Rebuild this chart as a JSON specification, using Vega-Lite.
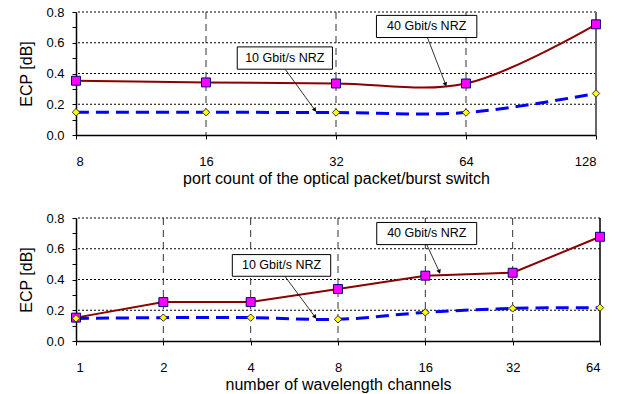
{
  "$schema": "https://vega.github.io/schema/vega-lite/v6.json",
  "padding": {"left": 18, "top": 6, "right": 5, "bottom": 2},
  "spacing": 26,
  "config": {
    "view": {"stroke": null},
    "font": "Liberation Sans",
    "axis": {
      "labelFont": "Liberation Sans", "titleFont": "Liberation Sans",
      "labelColor": "black", "titleColor": "black",
      "domainColor": "black", "tickColor": "black", "domainWidth": 1.5,
      "labelFontSize": 13, "titleFontSize": 16, "titleFontWeight": "normal",
      "grid": false, "tickSize": 4
    }
  },
  "datasets": {
    "top": [
      {"x": 8, "y": 0.353, "s": "40G"}, {"x": 16, "y": 0.342, "s": "40G"}, {"x": 32, "y": 0.335, "s": "40G"}, {"x": 64, "y": 0.335, "s": "40G"}, {"x": 128, "y": 0.72, "s": "40G"},
      {"x": 8, "y": 0.148, "s": "10G"}, {"x": 16, "y": 0.148, "s": "10G"}, {"x": 32, "y": 0.146, "s": "10G"}, {"x": 64, "y": 0.146, "s": "10G"}, {"x": 128, "y": 0.27, "s": "10G"}
    ],
    "bottom": [
      {"x": 1, "y": 0.152, "s": "40G"}, {"x": 2, "y": 0.253, "s": "40G"}, {"x": 4, "y": 0.253, "s": "40G"}, {"x": 8, "y": 0.338, "s": "40G"}, {"x": 16, "y": 0.425, "s": "40G"}, {"x": 32, "y": 0.444, "s": "40G"}, {"x": 64, "y": 0.678, "s": "40G"},
      {"x": 1, "y": 0.147, "s": "10G"}, {"x": 2, "y": 0.152, "s": "10G"}, {"x": 4, "y": 0.152, "s": "10G"}, {"x": 8, "y": 0.141, "s": "10G"}, {"x": 16, "y": 0.186, "s": "10G"}, {"x": 32, "y": 0.212, "s": "10G"}, {"x": 64, "y": 0.217, "s": "10G"}
    ],
    "topAnn": [
      {"s": "10G", "label": "10 Gbit/s NRZ", "x1": 18.9, "x2": 31.4, "y1": 0.573, "y2": 0.428, "tx": 24.35, "ty": 0.5, "ax": 24.4, "ay": 0.428, "bx": 28.6, "by": 0.162},
      {"s": "40G", "label": "40 Gbit/s NRZ", "x1": 39.7, "x2": 67.8, "y1": 0.778, "y2": 0.634, "tx": 51.9, "ty": 0.706, "ax": 52.1, "ay": 0.634, "bx": 57.4, "by": 0.329}
    ],
    "bottomAnn": [
      {"s": "10G", "label": "10 Gbit/s NRZ", "x1": 3.458, "x2": 7.55, "y1": 0.562, "y2": 0.421, "tx": 5.11, "ty": 0.492, "ax": 5.25, "ay": 0.421, "bx": 6.67, "by": 0.156},
      {"s": "40G", "label": "40 Gbit/s NRZ", "x1": 10.88, "x2": 24.05, "y1": 0.771, "y2": 0.627, "tx": 16.18, "ty": 0.7, "ax": 16.18, "ay": 0.627, "bx": 17.88, "by": 0.45}
    ],
    "hgrid": [{"g": 0.2}, {"g": 0.4}, {"g": 0.6}, {"g": 0.8}],
    "vgridTop": [{"v": 16}, {"v": 32}, {"v": 64}],
    "vgridBottom": [{"v": 2}, {"v": 4}, {"v": 8}, {"v": 16}, {"v": 32}]
  },
  "vconcat": [
    {
      "width": 520, "height": 123,
      "encoding": {
        "x": {"field": "x", "type": "quantitative",
          "scale": {"type": "log", "base": 2, "domain": [8, 128], "nice": false},
          "axis": {"values": [8, 16, 32, 64, 128], "format": "d", "labelPadding": 16, "titlePadding": 2, "title": "port count of the optical packet/burst switch"}},
        "y": {"field": "y", "type": "quantitative",
          "scale": {"domain": [0, 0.8], "nice": false},
          "axis": {"values": [0, 0.1, 0.2, 0.3, 0.4, 0.5, 0.6, 0.7, 0.8], "labelExpr": "round(datum.value*10) % 2 == 0 ? format(datum.value, '.1f') : ''", "labelPadding": 8, "titlePadding": 11, "title": "ECP [dB]"}}
      },
      "layer": [
        {"data": {"name": "hgrid"}, "mark": {"type": "rule", "color": "black", "strokeDash": [2, 2], "strokeWidth": 1.2}, "encoding": {"x": null, "y": {"field": "g", "type": "quantitative"}}},
        {"data": {"name": "vgridTop"}, "mark": {"type": "rule", "color": "#333", "strokeDash": [7, 5], "strokeWidth": 1}, "encoding": {"y": null, "x": {"field": "v", "type": "quantitative"}}},
        {"data": {"values": [{"v": 128}]}, "mark": {"type": "rule", "color": "#666", "strokeWidth": 2}, "encoding": {"y": null, "x": {"field": "v", "type": "quantitative"}}},
        {"data": {"name": "top"}, "transform": [{"filter": "datum.s == '40G'"}], "mark": {"type": "line", "interpolate": "catmull-rom", "color": "#8B0000", "strokeWidth": 2}},
        {"data": {"name": "top"}, "transform": [{"filter": "datum.s == '10G'"}], "mark": {"type": "line", "interpolate": "catmull-rom", "color": "#0000FF", "strokeWidth": 3, "strokeDash": [13, 7]}},
        {"data": {"name": "top"}, "transform": [{"filter": "datum.s == '40G'"}], "mark": {"type": "point", "shape": "square", "filled": true, "fill": "#FF00FF", "stroke": "#000080", "strokeWidth": 1, "size": 80, "opacity": 1}},
        {"data": {"name": "top"}, "transform": [{"filter": "datum.s == '10G'"}], "mark": {"type": "point", "shape": "diamond", "filled": true, "fill": "#FFFF00", "stroke": "#333", "strokeWidth": 1, "size": 55, "opacity": 1}},
        {"data": {"name": "topAnn"}, "mark": {"type": "rule", "color": "black", "strokeWidth": 0.8}, "encoding": {"x": {"field": "ax", "type": "quantitative"}, "y": {"field": "ay", "type": "quantitative"}, "x2": {"field": "bx"}, "y2": {"field": "by"}}},
        {"data": {"name": "topAnn"}, "mark": {"type": "point", "shape": "triangle-up", "filled": true, "color": "black", "size": 22, "opacity": 1}, "encoding": {"x": {"field": "bx", "type": "quantitative"}, "y": {"field": "by", "type": "quantitative"}, "angle": {"field": "s", "type": "nominal", "scale": {"domain": ["10G", "40G"], "range": [143.8, 158.6]}, "legend": null}}},
        {"data": {"name": "topAnn"}, "mark": {"type": "rect", "fill": "white", "stroke": "black", "strokeWidth": 1}, "encoding": {"x": {"field": "x1", "type": "quantitative"}, "x2": {"field": "x2"}, "y": {"field": "y1", "type": "quantitative"}, "y2": {"field": "y2"}}},
        {"data": {"name": "topAnn"}, "mark": {"type": "text", "font": "Liberation Sans", "fontSize": 12.5, "color": "black", "align": "center", "baseline": "middle"}, "encoding": {"x": {"field": "tx", "type": "quantitative"}, "y": {"field": "ty", "type": "quantitative"}, "text": {"field": "label"}}}
      ]
    },
    {
      "width": 524, "height": 123,
      "encoding": {
        "x": {"field": "x", "type": "quantitative",
          "scale": {"type": "log", "base": 2, "domain": [1, 64], "nice": false},
          "axis": {"values": [1, 2, 4, 8, 16, 32, 64], "format": "d", "labelPadding": 16, "titlePadding": 2, "title": "number of wavelength channels"}},
        "y": {"field": "y", "type": "quantitative",
          "scale": {"domain": [0, 0.8], "nice": false},
          "axis": {"values": [0, 0.1, 0.2, 0.3, 0.4, 0.5, 0.6, 0.7, 0.8], "labelExpr": "round(datum.value*10) % 2 == 0 ? format(datum.value, '.1f') : ''", "labelPadding": 8, "titlePadding": 11, "title": "ECP [dB]"}}
      },
      "layer": [
        {"data": {"name": "hgrid"}, "mark": {"type": "rule", "color": "black", "strokeDash": [2, 2], "strokeWidth": 1.2}, "encoding": {"x": null, "y": {"field": "g", "type": "quantitative"}}},
        {"data": {"name": "vgridBottom"}, "mark": {"type": "rule", "color": "#333", "strokeDash": [7, 5], "strokeWidth": 1}, "encoding": {"y": null, "x": {"field": "v", "type": "quantitative"}}},
        {"data": {"values": [{"v": 64}]}, "mark": {"type": "rule", "color": "black", "strokeWidth": 1.5}, "encoding": {"y": null, "x": {"field": "v", "type": "quantitative"}}},
        {"data": {"name": "bottom"}, "transform": [{"filter": "datum.s == '40G'"}], "mark": {"type": "line", "color": "#8B0000", "strokeWidth": 2}},
        {"data": {"name": "bottom"}, "transform": [{"filter": "datum.s == '10G'"}], "mark": {"type": "line", "interpolate": "catmull-rom", "color": "#0000FF", "strokeWidth": 3, "strokeDash": [13, 7]}},
        {"data": {"name": "bottom"}, "transform": [{"filter": "datum.s == '40G'"}], "mark": {"type": "point", "shape": "square", "filled": true, "fill": "#FF00FF", "stroke": "#000080", "strokeWidth": 1, "size": 80, "opacity": 1}},
        {"data": {"name": "bottom"}, "transform": [{"filter": "datum.s == '10G'"}], "mark": {"type": "point", "shape": "diamond", "filled": true, "fill": "#FFFF00", "stroke": "#333", "strokeWidth": 1, "size": 55, "opacity": 1}},
        {"data": {"name": "bottomAnn"}, "mark": {"type": "rule", "color": "black", "strokeWidth": 0.8}, "encoding": {"x": {"field": "ax", "type": "quantitative"}, "y": {"field": "ay", "type": "quantitative"}, "x2": {"field": "bx"}, "y2": {"field": "by"}}},
        {"data": {"name": "bottomAnn"}, "mark": {"type": "point", "shape": "triangle-up", "filled": true, "color": "black", "size": 22, "opacity": 1}, "encoding": {"x": {"field": "bx", "type": "quantitative"}, "y": {"field": "by", "type": "quantitative"}, "angle": {"field": "s", "type": "nominal", "scale": {"domain": ["10G", "40G"], "range": [143.8, 155.2]}, "legend": null}}},
        {"data": {"name": "bottomAnn"}, "mark": {"type": "rect", "fill": "white", "stroke": "black", "strokeWidth": 1}, "encoding": {"x": {"field": "x1", "type": "quantitative"}, "x2": {"field": "x2"}, "y": {"field": "y1", "type": "quantitative"}, "y2": {"field": "y2"}}},
        {"data": {"name": "bottomAnn"}, "mark": {"type": "text", "font": "Liberation Sans", "fontSize": 12.5, "color": "black", "align": "center", "baseline": "middle"}, "encoding": {"x": {"field": "tx", "type": "quantitative"}, "y": {"field": "ty", "type": "quantitative"}, "text": {"field": "label"}}}
      ]
    }
  ]
}
